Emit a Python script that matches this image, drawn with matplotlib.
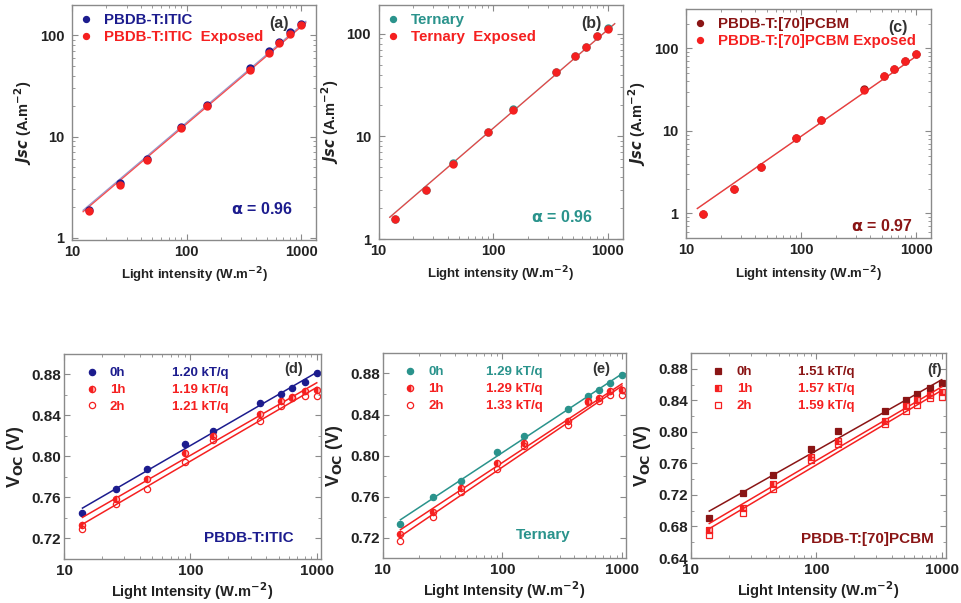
import numpy as np
import matplotlib
matplotlib.use("Agg")
import matplotlib.pyplot as plt
from matplotlib.lines import Line2D
from matplotlib.ticker import FixedLocator, NullFormatter, MultipleLocator

plt.rcParams['font.family'] = ['Liberation Sans', 'DejaVu Sans']
plt.rcParams['font.weight'] = 'bold'
plt.rcParams['axes.labelweight'] = 'bold'
plt.rcParams['mathtext.default'] = 'bf'

NAVY = '#1c1c8e'
RED = '#f52020'
DARKRED = '#8a1515'
TEAL = '#2a938c'
SPINE = '#8a8a8a'
TXT = '#222222'

# light intensity steps (W/m^2)
intensity = [14, 26, 45, 90, 150, 355, 520, 640, 800, 1000]

# short-circuit current density (A/m^2), fresh and exposed
jsc_itic = [1.90, 3.45, 6.05, 12.5, 20.7, 47.9, 69.5, 85.0, 109, 130]
jsc_itic_exp = [1.85, 3.33, 5.90, 12.1, 19.8, 45.7, 66.9, 84.0, 104, 126]
jsc_tern = [1.58, 3.03, 5.45, 11.1, 18.4, 42.2, 61.0, 74.5, 95.5, 113]
jsc_tern_exp = [1.57, 3.01, 5.41, 11.0, 18.2, 41.9, 60.5, 74.0, 95.0, 112]
jsc_pcbm = [0.98, 2.0, 3.66, 8.3, 13.6, 31.9, 46.2, 56.8, 71.3, 86.5]
jsc_pcbm_exp = [0.97, 1.98, 3.63, 8.2, 13.5, 31.6, 45.8, 56.4, 70.8, 85.8]
alpha = [0.96, 0.96, 0.97]

# open-circuit voltage (V) after 0h / 1h / 2h
voc_itic = [
    [0.745, 0.768, 0.788, 0.812, 0.825, 0.852, 0.861, 0.867, 0.873, 0.881],
    [0.733, 0.759, 0.778, 0.803, 0.820, 0.841, 0.854, 0.858, 0.864, 0.865],
    [0.729, 0.754, 0.768, 0.795, 0.816, 0.835, 0.849, 0.857, 0.859, 0.859],
]
voc_tern = [
    [0.733, 0.760, 0.775, 0.803, 0.819, 0.845, 0.858, 0.864, 0.871, 0.879],
    [0.723, 0.745, 0.768, 0.793, 0.812, 0.834, 0.852, 0.856, 0.863, 0.864],
    [0.717, 0.740, 0.764, 0.787, 0.809, 0.830, 0.853, 0.853, 0.859, 0.859],
]
voc_pcbm = [
    [0.691, 0.722, 0.745, 0.778, 0.801, 0.827, 0.841, 0.848, 0.856, 0.862],
    [0.675, 0.703, 0.734, 0.768, 0.789, 0.814, 0.833, 0.840, 0.847, 0.850],
    [0.669, 0.697, 0.728, 0.764, 0.784, 0.810, 0.827, 0.834, 0.843, 0.844],
]
ideality_itic = [1.20, 1.19, 1.21]
ideality_tern = [1.29, 1.29, 1.33]
ideality_pcbm = [1.51, 1.57, 1.59]
hours = ['0h', '1h', '2h']
kT_q = 0.02585

x = np.array(intensity, dtype=float)

fig = plt.figure(figsize=(9.61, 6.03), dpi=100)


def style_axes(ax, size, ypad):
    for s in ax.spines.values():
        s.set_color(SPINE)
        s.set_linewidth(1.0)
    ax.tick_params(which='both', direction='in', top=True, right=True,
                   color=SPINE, labelcolor=TXT, labelsize=size)
    ax.tick_params(which='major', length=4.5)
    ax.tick_params(which='minor', length=2.5)
    ax.tick_params(axis='y', which='major', pad=ypad)
    for lab in ax.get_xticklabels() + ax.get_yticklabels():
        lab.set_fontweight('bold')


def power_fit(y, a, x0, x1):
    # slope fixed by alpha, prefactor from the data
    ly = np.log10(y)
    b = np.mean(ly - a * np.log10(x))
    xl = np.array([x0, x1])
    return xl, 10 ** (b + a * np.log10(xl))


def jsc_panel(rect, fresh, exposed, col, labels, a, tag, tag_xy, a_xy,
              ylim, xmax_line):
    ax = fig.add_axes(rect)
    for ys, c, al in ((fresh, col, 0.45), (exposed, RED, 0.8)):
        xl, yl = power_fit(np.array(ys), a, 12.5, xmax_line)
        ax.plot(xl, yl, color=c, lw=0.9, alpha=al)
    ax.plot(x, fresh, 'o', color=col, ms=5, label=labels[0])
    ax.plot(x, exposed, 'o', color=RED, ms=5, label=labels[1])
    ax.set_xscale('log')
    ax.set_yscale('log')
    ax.set_xlim(10, 1350)
    ax.set_ylim(*ylim)
    ax.set_xticks([10, 100, 1000])
    ax.set_xticklabels(['10', '100', '1000'])
    ax.set_yticks([1, 10, 100])
    ax.set_yticklabels(['1', '10', '100'])
    ax.yaxis.set_minor_formatter(NullFormatter())
    ax.xaxis.set_minor_formatter(NullFormatter())
    ax.set_xlabel('Light intensity (W.m$^{-2}$)', fontsize=9.5, color=TXT,
                  labelpad=5)
    ax.set_ylabel(r'$\mathbfit{Jsc}$ (A.m$^{-2}$)', fontsize=10.5, color=TXT)
    ax.legend(loc='upper left', frameon=False, fontsize=10.8,
              handletextpad=0.8, borderaxespad=0.15, labelspacing=0.2,
              handlelength=0.8, markerscale=0.85, labelcolor=[col, RED])
    ax.text(*tag_xy, tag, transform=ax.transAxes, ha='center', va='center',
            fontsize=11.5, color='#333333')
    ax.text(*a_xy, r'$\alpha$ = %.2f' % a, transform=ax.transAxes,
            ha='center', va='center', fontsize=11.5, color=col)
    style_axes(ax, 10.5, 5.5)
    return ax


def voc_panel(rect, data, nvals, col, marker, tag, tag_xy, name, name_xy,
              ylim, yticks):
    ax = fig.add_axes(rect)
    cols = [col, RED, RED]
    fills = ['full', 'left', 'none']
    handles = []
    lx = np.log10(x)
    for v, n, c, f in zip(data, nvals, cols, fills):
        v = np.array(v)
        slope = n * kT_q * np.log(10)
        b = np.mean(v - slope * lx)
        xl = np.array([14, 1000])
        ax.plot(xl, b + slope * np.log10(xl), color=c, lw=1.1)
        kw = dict(color=c, ms=4.5, ls='none', marker=marker, fillstyle=f,
                  markeredgewidth=0.9)
        if f == 'left':
            kw['markerfacecoloralt'] = '#ffb0b0'
        ax.plot(x, v, **kw)
        handles.append(Line2D([], [], **kw))
    ax.set_xscale('log')
    ax.set_xlim(10, 1080)
    ax.set_ylim(*ylim)
    ax.set_xticks([10, 100, 1000])
    ax.set_xticklabels(['10', '100', '1000'])
    ax.xaxis.set_minor_formatter(NullFormatter())
    ax.yaxis.set_major_locator(FixedLocator(yticks))
    ax.set_yticklabels(['%.2f' % t for t in yticks])
    ax.yaxis.set_minor_locator(MultipleLocator(0.02))
    ax.set_xlabel('Light Intensity (W.m$^{-2}$)', fontsize=10.5, color=TXT,
                  labelpad=2)
    ax.set_ylabel('V$_{OC}$ (V)', fontsize=13, color=TXT)
    leg1 = ax.legend(handles, hours, loc='upper left', frameon=False,
                     fontsize=9.5, handletextpad=0.9, handlelength=1.0,
                     borderaxespad=0.6, bbox_to_anchor=(0.03, 1.0),
                     labelspacing=0.35, labelcolor=cols)
    ax.add_artist(leg1)
    empty = [Line2D([], [], ls='none') for _ in nvals]
    ax.legend(empty, ['%.2f kT/q' % n for n in nvals], loc='upper left',
              frameon=False, fontsize=9.5, handlelength=0, handletextpad=0,
              borderaxespad=0.6, bbox_to_anchor=(0.37, 1.0),
              labelspacing=0.35, labelcolor=cols)
    ax.text(*tag_xy, tag, transform=ax.transAxes, ha='center', va='center',
            fontsize=10.5, color='#333333')
    ax.text(*name_xy, name, transform=ax.transAxes, ha='center',
            va='center', fontsize=11, color=col)
    style_axes(ax, 11, 2.0)
    return ax


jsc_panel([0.0749, 0.602, 0.254, 0.390], jsc_itic, jsc_itic_exp, NAVY,
          ['PBDB-T:ITIC', 'PBDB-T:ITIC  Exposed'], alpha[0], '(a)',
          (0.85, 0.92), (0.78, 0.13), (0.95, 200), 1100)
jsc_panel([0.394, 0.6036, 0.254, 0.388], jsc_tern, jsc_tern_exp, TEAL,
          ['Ternary', 'Ternary  Exposed'], alpha[1], '(b)',
          (0.87, 0.92), (0.75, 0.095), (1, 190), 1150)
jsc_panel([0.714, 0.605, 0.255, 0.380], jsc_pcbm, jsc_pcbm_exp, DARKRED,
          ['PBDB-T:[70]PCBM', 'PBDB-T:[70]PCBM Exposed'], alpha[2], '(c)',
          (0.865, 0.92), (0.80, 0.055), (0.5, 300), 1000)

voc_panel([0.0666, 0.073, 0.2674, 0.340], voc_itic, ideality_itic, NAVY, 'o',
          '(d)', (0.895, 0.927), 'PBDB-T:ITIC', (0.72, 0.10),
          (0.70, 0.90), [0.72, 0.76, 0.80, 0.84, 0.88])
voc_panel([0.3985, 0.0746, 0.2529, 0.340], voc_tern, ideality_tern, TEAL, 'o',
          '(e)', (0.90, 0.92), 'Ternary', (0.66, 0.11),
          (0.70, 0.90), [0.72, 0.76, 0.80, 0.84, 0.88])
voc_panel([0.719, 0.0746, 0.2653, 0.340], voc_pcbm, ideality_pcbm, DARKRED, 's',
          '(f)', (0.955, 0.917), 'PBDB-T:[70]PCBM', (0.69, 0.093),
          (0.64, 0.90), [0.64, 0.68, 0.72, 0.76, 0.80, 0.84, 0.88])

fig.savefig('out.png', dpi=100)
